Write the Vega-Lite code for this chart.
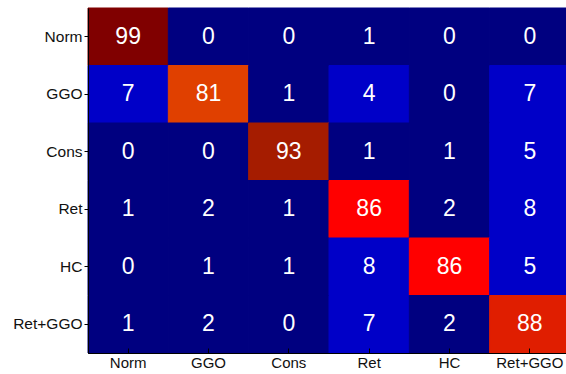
{
  "$schema": "https://vega.github.io/schema/vega-lite/v6.json",
  "autosize": "none",
  "padding": {"left": 88, "top": 8, "right": 0, "bottom": 21},
  "width": 482,
  "height": 345,
  "background": "white",
  "config": {
    "view": {"stroke": "black", "strokeWidth": 1},
    "font": "Liberation Sans",
    "axis": {"grid": false}
  },
  "data": {
    "values": [
      {"actual": "Norm", "pred": "Norm", "v": 99}, {"actual": "Norm", "pred": "GGO", "v": 0}, {"actual": "Norm", "pred": "Cons", "v": 0}, {"actual": "Norm", "pred": "Ret", "v": 1}, {"actual": "Norm", "pred": "HC", "v": 0}, {"actual": "Norm", "pred": "Ret+GGO", "v": 0},
      {"actual": "GGO", "pred": "Norm", "v": 7}, {"actual": "GGO", "pred": "GGO", "v": 81}, {"actual": "GGO", "pred": "Cons", "v": 1}, {"actual": "GGO", "pred": "Ret", "v": 4}, {"actual": "GGO", "pred": "HC", "v": 0}, {"actual": "GGO", "pred": "Ret+GGO", "v": 7},
      {"actual": "Cons", "pred": "Norm", "v": 0}, {"actual": "Cons", "pred": "GGO", "v": 0}, {"actual": "Cons", "pred": "Cons", "v": 93}, {"actual": "Cons", "pred": "Ret", "v": 1}, {"actual": "Cons", "pred": "HC", "v": 1}, {"actual": "Cons", "pred": "Ret+GGO", "v": 5},
      {"actual": "Ret", "pred": "Norm", "v": 1}, {"actual": "Ret", "pred": "GGO", "v": 2}, {"actual": "Ret", "pred": "Cons", "v": 1}, {"actual": "Ret", "pred": "Ret", "v": 86}, {"actual": "Ret", "pred": "HC", "v": 2}, {"actual": "Ret", "pred": "Ret+GGO", "v": 8},
      {"actual": "HC", "pred": "Norm", "v": 0}, {"actual": "HC", "pred": "GGO", "v": 1}, {"actual": "HC", "pred": "Cons", "v": 1}, {"actual": "HC", "pred": "Ret", "v": 8}, {"actual": "HC", "pred": "HC", "v": 86}, {"actual": "HC", "pred": "Ret+GGO", "v": 5},
      {"actual": "Ret+GGO", "pred": "Norm", "v": 1}, {"actual": "Ret+GGO", "pred": "GGO", "v": 2}, {"actual": "Ret+GGO", "pred": "Cons", "v": 0}, {"actual": "Ret+GGO", "pred": "Ret", "v": 7}, {"actual": "Ret+GGO", "pred": "HC", "v": 2}, {"actual": "Ret+GGO", "pred": "Ret+GGO", "v": 88}
    ]
  },
  "encoding": {
    "x": {
      "field": "pred", "type": "nominal",
      "sort": ["Norm", "GGO", "Cons", "Ret", "HC", "Ret+GGO"],
      "scale": {"paddingInner": 0, "paddingOuter": 0},
      "axis": {"title": null, "grid": false, "labelAngle": 0, "labelFontSize": 15, "labelColor": "#111", "domainColor": "black", "tickColor": "black", "tickSize": -5, "labelPadding": 7, "labelFont": "Liberation Sans"}
    },
    "y": {
      "field": "actual", "type": "nominal",
      "sort": ["Norm", "GGO", "Cons", "Ret", "HC", "Ret+GGO"],
      "scale": {"paddingInner": 0, "paddingOuter": 0},
      "axis": {"title": null, "grid": false, "labelFontSize": 15.5, "labelColor": "#111", "domainColor": "black", "tickColor": "black", "tickSize": 4, "labelPadding": 2, "labelFont": "Liberation Sans"}
    }
  },
  "layer": [
    {
      "mark": {"type": "rect", "strokeWidth": 1},
      "encoding": {
        "color": {
          "field": "v", "type": "quantitative",
          "scale": {"type": "threshold", "domain": [3, 50, 84, 87, 90, 96], "range": ["#000080", "#0000C8", "#E04000", "#FF0000", "#E01E00", "#A51C00", "#800000"]},
          "legend": null
        },
        "stroke": {
          "field": "v", "type": "quantitative",
          "scale": {"type": "threshold", "domain": [3, 50, 84, 87, 90, 96], "range": ["#000080", "#0000C8", "#E04000", "#FF0000", "#E01E00", "#A51C00", "#800000"]},
          "legend": null
        }
      }
    },
    {
      "mark": {"type": "text", "color": "white", "fontSize": 23, "font": "Liberation Sans"},
      "encoding": {"text": {"field": "v", "type": "quantitative"}}
    }
  ]
}
